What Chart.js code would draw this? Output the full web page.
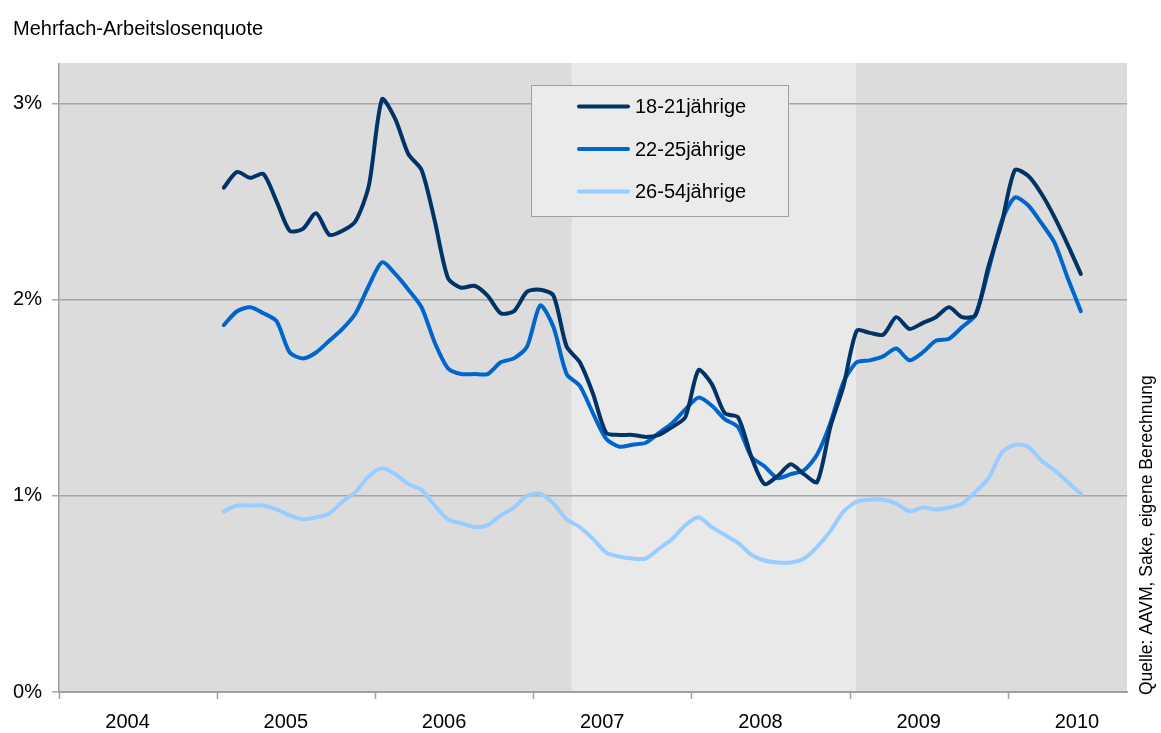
<!DOCTYPE html>
<html>
<head>
<meta charset="utf-8">
<script src="https://cdn.jsdelivr.net/npm/chart.js@4/dist/chart.umd.min.js"></script>
<style>
  body { margin: 0; background: #fff; }
  #wrap { width: 1161px; height: 733px; position: relative; }
</style>
</head>
<body>
<div id="wrap"><canvas id="quoteChart"></canvas></div>
<script>
// Monatswerte Jan 2005 - Jun 2010 (in %)
const years = ['2004', '2005', '2006', '2007', '2008', '2009', '2010'];
const firstMonth = 12; // Jan 2005, gezählt ab Jan 2004
const axisMonths = 81;  // Achse Jan 2004 - Sep 2010
const yTicks = [0, 1, 2, 3];

const q1821 = [2.57, 2.65, 2.62, 2.64, 2.50, 2.35, 2.36, 2.44, 2.33, 2.35, 2.40, 2.58,
               3.02, 2.92, 2.74, 2.66, 2.40, 2.11, 2.06, 2.07, 2.02, 1.93, 1.94, 2.04,
               2.05, 2.02, 1.76, 1.68, 1.52, 1.32, 1.31, 1.31, 1.30, 1.31, 1.35, 1.40,
               1.64, 1.57, 1.42, 1.40, 1.20, 1.06, 1.10, 1.16, 1.11, 1.07, 1.35, 1.56,
               1.84, 1.83, 1.82, 1.91, 1.85, 1.88, 1.91, 1.96, 1.91, 1.92, 2.17, 2.39,
               2.66, 2.63, 2.54, 2.42, 2.28, 2.13];
const q2225 = [1.87, 1.94, 1.96, 1.93, 1.89, 1.73, 1.70, 1.73, 1.79, 1.85, 1.93, 2.07,
               2.19, 2.13, 2.05, 1.96, 1.78, 1.65, 1.62, 1.62, 1.62, 1.68, 1.70, 1.76,
               1.97, 1.86, 1.62, 1.56, 1.42, 1.29, 1.25, 1.26, 1.27, 1.32, 1.37, 1.44,
               1.50, 1.46, 1.39, 1.35, 1.20, 1.15, 1.09, 1.11, 1.13, 1.21, 1.37, 1.58,
               1.68, 1.69, 1.71, 1.75, 1.69, 1.73, 1.79, 1.80, 1.86, 1.92, 2.15, 2.40,
               2.52, 2.48, 2.39, 2.29, 2.11, 1.94];
const q2654 = [0.92, 0.95, 0.95, 0.95, 0.93, 0.90, 0.88, 0.89, 0.91, 0.97, 1.02, 1.10,
               1.14, 1.11, 1.06, 1.03, 0.95, 0.88, 0.86, 0.84, 0.85, 0.90, 0.94, 1.00,
               1.01, 0.96, 0.88, 0.84, 0.78, 0.71, 0.69, 0.68, 0.68, 0.73, 0.78, 0.85,
               0.89, 0.84, 0.80, 0.76, 0.70, 0.67, 0.66, 0.66, 0.68, 0.74, 0.82, 0.92,
               0.97, 0.98, 0.98, 0.96, 0.92, 0.94, 0.93, 0.94, 0.96, 1.02, 1.09, 1.22,
               1.26, 1.25, 1.18, 1.13, 1.07, 1.01];

// Hintergrundphasen (Monate ab Jan 2004)
const phaseBounds = [0, 38.9, 60.45, 81];
const phaseColors = ['#dcdcdc', '#e9e9e9', '#dcdcdc'];

const FONT = '"Liberation Sans", Arial, sans-serif';
const LABEL_OFFSET = 5.2;

function toPoints(arr) {
    return arr.map((v, i) => ({ x: firstMonth + i + 0.5, y: v }));
}

const yearBounds = years.map((y, i) => i * 12);
const yearLabelPos = years.map((y, i) => i * 12 + LABEL_OFFSET);

const phasePlugin = {
    id: 'phases',
    beforeDraw(chart) {
        const { ctx, chartArea, scales } = chart;
        ctx.save();
        for (let i = 0; i < phaseColors.length; i++) {
            const x1 = scales.x.getPixelForValue(phaseBounds[i]);
            const x2 = scales.x.getPixelForValue(phaseBounds[i + 1]);
            ctx.fillStyle = phaseColors[i];
            ctx.fillRect(x1, chartArea.top - 1, x2 - x1, chartArea.bottom - chartArea.top + 1);
        }
        ctx.restore();
    }
};

const textPlugin = {
    id: 'texts',
    afterDatasetsDraw(chart) {
        const ctx = chart.ctx;
        ctx.save();
        // Legende
        const bx = 531, by = 85, bw = 257, bh = 131;
        ctx.fillStyle = '#ebebeb';
        ctx.fillRect(bx, by, bw, bh);
        ctx.strokeStyle = '#a0a0a0';
        ctx.lineWidth = 1;
        ctx.strokeRect(bx + 0.5, by + 0.5, bw, bh);
        const rows = [106.5, 149, 191.5];
        chart.data.datasets.forEach((ds, i) => {
            ctx.strokeStyle = ds.borderColor;
            ctx.lineWidth = 4;
            ctx.lineCap = 'round';
            ctx.beginPath();
            ctx.moveTo(579, rows[i]);
            ctx.lineTo(628, rows[i]);
            ctx.stroke();
            ctx.fillStyle = '#000';
            ctx.font = '20px ' + FONT;
            ctx.textBaseline = 'middle';
            ctx.textAlign = 'left';
            ctx.fillText(ds.label, 635, rows[i] + 1);
        });
        ctx.restore();
    },
    afterDraw(chart) {
        const ctx = chart.ctx;
        ctx.save();
        ctx.fillStyle = '#000';
        ctx.font = '20px ' + FONT;
        ctx.textBaseline = 'alphabetic';
        ctx.textAlign = 'left';
        ctx.fillText('Mehrfach-Arbeitslosenquote', 13, 35);
        ctx.translate(1152, 695);
        ctx.rotate(-Math.PI / 2);
        ctx.font = '17.5px ' + FONT;
        ctx.fillText('Quelle: AAVM, Sake, eigene Berechnung', 0, 0);
        ctx.restore();
    }
};

const isBound = v => yearBounds.some(b => Math.abs(b - v) < 1e-6);

new Chart(document.getElementById('quoteChart'), {
    type: 'line',
    data: {
        datasets: [
            { label: '18-21jährige', data: toPoints(q1821), borderColor: '#003366' },
            { label: '22-25jährige', data: toPoints(q2225), borderColor: '#0066cc' },
            { label: '26-54jährige', data: toPoints(q2654), borderColor: '#99ccff' }
        ]
    },
    options: {
        responsive: true,
        maintainAspectRatio: false,
        animation: false,
        layout: { padding: { top: 64, right: 34, left: 0, bottom: 0 } },
        elements: {
            line: { borderWidth: 4, tension: 0.25, borderCapStyle: 'round', borderJoinStyle: 'round', fill: false },
            point: { radius: 0 }
        },
        plugins: {
            legend: { display: false },
            tooltip: { enabled: false }
        },
        scales: {
            x: {
                type: 'linear',
                min: 0,
                max: axisMonths,
                afterFit: s => { s.height = 41; },
                afterBuildTicks: s => {
                    s.ticks = yearBounds.concat(yearLabelPos).sort((a, b) => a - b).map(v => ({ value: v }));
                },
                grid: {
                    drawOnChartArea: false,
                    tickLength: 7,
                    tickWidth: 1.5,
                    tickColor: ctx => (ctx.tick && isBound(ctx.tick.value)) ? '#a0a0a0' : 'rgba(0,0,0,0)'
                },
                border: { color: '#a0a0a0', width: 2 },
                ticks: {
                    autoSkip: false,
                    maxRotation: 0,
                    padding: 11,
                    color: '#000',
                    font: { family: FONT, size: 20 },
                    callback: v => {
                        const idx = yearLabelPos.findIndex(p => Math.abs(p - v) < 1e-6);
                        return idx >= 0 ? years[idx] : '';
                    }
                }
            },
            y: {
                min: 0,
                max: 3.2,
                afterFit: s => { s.width = 59; },
                afterBuildTicks: s => { s.ticks = yTicks.map(v => ({ value: v })); },
                grid: { color: '#a6a6a6', lineWidth: 1.5, tickLength: 7 },
                border: { color: '#a0a0a0', width: 1.5 },
                ticks: {
                    padding: 10,
                    color: '#000',
                    font: { family: FONT, size: 20 },
                    callback: v => v + '%'
                }
            }
        }
    },
    plugins: [phasePlugin, textPlugin]
});
</script>
</body>
</html>
